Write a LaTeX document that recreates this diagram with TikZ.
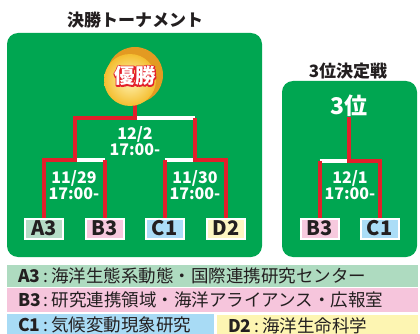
\documentclass[tikz,border=0pt]{standalone}
\usepackage{fontspec}
\setmainfont{Noto Sans CJK JP}
\newfontfamily\jp{Noto Sans CJK JP}
\definecolor{pgreen}{HTML}{00A651}
\definecolor{lred}{HTML}{E3202B}
\definecolor{ink}{HTML}{231F20}
\definecolor{ca}{HTML}{B5DCC6}
\definecolor{cb}{HTML}{F7C9DE}
\definecolor{cc}{HTML}{ABDDF7}
\definecolor{cd}{HTML}{FDF6C2}
\definecolor{la}{HTML}{AEDBC0}
\definecolor{lb}{HTML}{F6C5DC}
\definecolor{lc}{HTML}{A8DBF5}
\definecolor{ld}{HTML}{FDF5B2}
\definecolor{goldin}{HTML}{FFF4B4}
\definecolor{goldout}{HTML}{F4BE30}
\definecolor{goldedge}{HTML}{E39A22}
\newcommand\otext[1]{\rlap{\special{pdf:code q 1 Tr 2.6 w 1 j 0.89 0.125 0.17 RG}#1\special{pdf:code Q}}\textcolor{white}{#1}}
\tikzset{
  panel/.style={fill=pgreen, rounded corners=11pt},
  ttl/.style={font=\jp\bfseries\fontsize{17}{17}\selectfont, text=ink, inner sep=0pt},
  team/.style={draw=white, line width=2pt, minimum width=38pt, minimum height=20pt, inner sep=0pt,
    font=\jp\bfseries\fontsize{20}{20}\selectfont, text=ink},
  date/.style={font=\jp\bfseries\fontsize{16}{16}\selectfont, text=white, align=center, inner sep=0pt},
  win/.style={draw=lred, line width=4pt, line cap=square, line join=miter},
  open/.style={draw=white, line width=3.5pt},
  leg/.style={anchor=north west, minimum width=411pt, text width=389pt, align=left, inner xsep=11pt, inner ysep=0pt,
    font=\jp\fontsize{17.5}{17.5}\selectfont, text=ink},
}
\begin{document}
\begin{tikzpicture}[x=1pt,y=-1pt]
\useasboundingbox (0,0) rectangle (420,334);
% panels
\fill[panel] (7,33) rectangle (262,257);
\fill[panel] (282,81) rectangle (417,257);
% titles
\node[ttl] (t1) at (135,20) {決勝トーナメント};
\node[ttl] (t2) at (348,71) {3位決定戦};
% medal
\node[circle, minimum size=56pt, inner sep=0pt] (medal) at (135,75) {};
% team boxes (main)
\node[team] (A3) at (44,228.5) {};
\node[team] (B3) at (105,228.5) {};
\node[team] (C1) at (164.5,228.5) {};
\node[team] (D2) at (226,228.5) {};
% bracket coordinates
\coordinate (m1) at (75,160);
\coordinate (m2) at (195,160);
\coordinate (tc) at (135,118);
\coordinate (tl) at (75,118);
\coordinate (tr) at (195,118);
% open (white) segments
\draw[open] (m1) -- (B3.north |- m1);
\draw[open] (C1.north |- m2) -- (m2);
\draw[open] (tc) -- (tr);
% winning (red) lines
\draw[win] (A3.north) |- (m1) -- (tl) -- (tc) -- (medal.south);
\draw[win] (B3.north) -- (B3.north |- m1);
\draw[win] (C1.north) -- (C1.north |- m2);
\draw[win] (D2.north) |- (m2) -- (tr);
% medal drawing
\fill[goldedge] (medal.center) circle (28pt);
\shade[inner color=goldin, outer color=goldout] ([xshift=-5pt,yshift=-5pt]medal.center) circle (26pt);
\node[font=\jp\bfseries\fontsize{20.5}{20.5}\selectfont, inner sep=0pt] (medtxt) at (135,76) {\otext{優勝}};
% boxes on top
\node[team, fill=ca] at (A3) {A3};
\node[team, fill=cb] at (B3) {B3};
\node[team, fill=cc] at (C1) {C1};
\node[team, fill=cd] at (D2) {D2};
% dates
\node[date] (d1) at (135,141) {12/2\\17:00-};
\node[date] (d2) at (74,185) {11/29\\17:00-};
\node[date] (d3) at (195,185) {11/30\\17:00-};
% third place panel
\node[font=\jp\bfseries\fontsize{23}{23}\selectfont, text=white, inner sep=0pt, anchor=south] (p3) at (349,117) {3位};
\node[team] (B3r) at (319.5,228.5) {};
\node[team] (C1r) at (379.5,228.5) {};
\coordinate (m3) at (349,161);
\draw[open] (B3r.north |- m3) -- (m3);
\draw[win] (p3.south) -- (m3) -| (C1r.north);
\draw[win] (B3r.north) -- (B3r.north |- m3);
\node[team, fill=cb] at (B3r) {B3};
\node[team, fill=cc] at (C1r) {C1};
\node[date] (d4) at (350,185) {12/1\\17:00-};
% legend
\node[leg, fill=la, minimum height=22pt] (LA) at (7,265) {\textbf{A3}\,:\,海洋生態系動態・国際連携研究センター};
\node[leg, fill=lb, minimum height=24pt] (LB) at (7,288) {\textbf{B3}\,:\,研究連携領域・海洋アライアンス・広報室};
\node[leg, fill=lc, minimum width=207pt, text width=185pt, minimum height=22pt] (LC) at (7,314) {\textbf{C1}\,:\,気候変動現象研究};
\node[leg, fill=ld, minimum width=201pt, text width=179pt, minimum height=22pt] (LD) at (217,315) {\textbf{D2}\,:\,海洋生命科学};
\end{tikzpicture}
\end{document}
